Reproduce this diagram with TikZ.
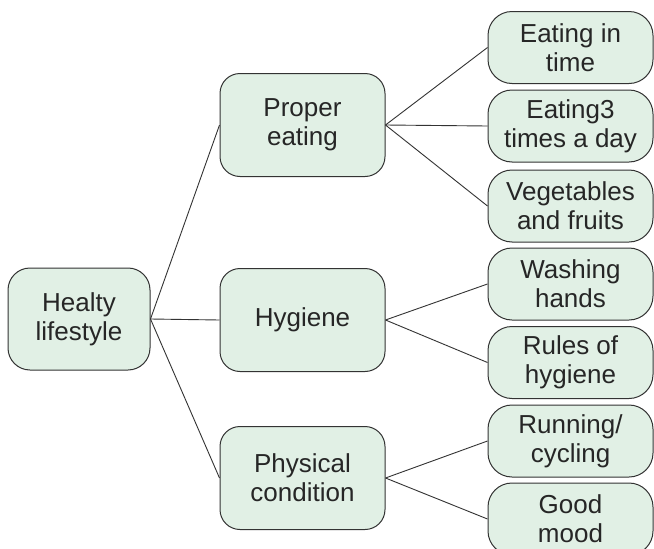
\documentclass[tikz,border=0pt]{standalone}
\usepackage{fontspec}
\setmainfont{Liberation Sans}
\definecolor{boxfill}{HTML}{E1F0E5}
\definecolor{boxline}{HTML}{333333}
\definecolor{txt}{HTML}{262626}
\begin{document}
\begin{tikzpicture}[x=1pt,y=-1pt,
  base/.style={draw=boxline,fill=boxfill,line width=1pt,align=center,text=txt,
    font=\fontsize{26}{29}\selectfont,inner sep=0pt},
  rootbox/.style={base,minimum width=142pt,minimum height=102pt,rounded corners=22pt},
  midbox/.style={base,minimum width=165pt,minimum height=103pt,rounded corners=20pt},
  leafbox/.style={base,minimum width=165pt,minimum height=72pt,rounded corners=24pt},
  link/.style={draw=boxline,line width=0.9pt}]
\clip (0,0) rectangle (654,549);
\fill[white] (0,0) rectangle (654,549);
\node[rootbox] (root) at (79,319) {Healty\\lifestyle};
\node[midbox] (pe) at (302.5,125) {Proper\\eating};
\node[midbox] (hy) at (302.5,320) {Hygiene};
\node[midbox] (pc) at (302.5,478) {Physical\\condition};
\node[leafbox] (l1) at (570.5,47.5) {Eating in\\time};
\node[leafbox] (l2) at (570.5,126) {Eating3\\times a day};
\node[leafbox] (l3) at (570.5,206) {Vegetables\\and fruits};
\node[leafbox] (l4) at (570.5,284) {Washing\\hands};
\node[leafbox] (l5) at (570.5,362.5) {Rules of\\hygiene};
\node[leafbox] (l6) at (570.5,441) {Running/\\cycling};
\node[leafbox] (l7) at (570.5,519) {Good\\mood};
\draw[link] (root.east) -- (pe.west);
\draw[link] (root.east) -- (hy.west);
\draw[link] (root.east) -- (pc.west);
\draw[link] (pe.east) -- (l1.west);
\draw[link] (pe.east) -- (l2.west);
\draw[link] (pe.east) -- (l3.west);
\draw[link] (hy.east) -- (l4.west);
\draw[link] (hy.east) -- (l5.west);
\draw[link] (pc.east) -- (l6.west);
\draw[link] (pc.east) -- (l7.west);
\end{tikzpicture}
\end{document}
